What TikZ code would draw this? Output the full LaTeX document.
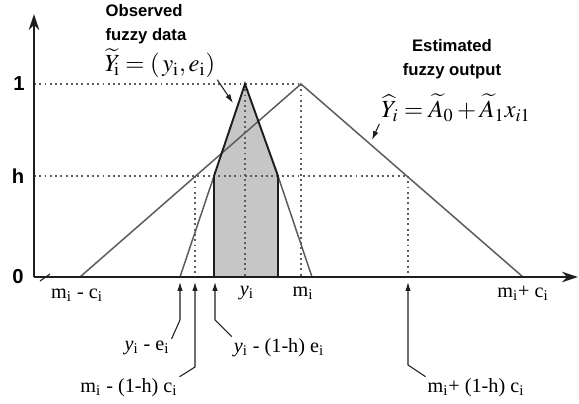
\documentclass[tikz,border=0pt]{standalone}
\usepackage{mathptmx}
\usepackage{fontspec}
\setmainfont{Liberation Serif}
\newfontfamily\sansTitre{Liberation Sans}
\usepackage{xcolor}
\definecolor{flouGris}{HTML}{C6C6C6}
\definecolor{flouTrait}{HTML}{5C5C5C}
\definecolor{flouNoir}{HTML}{1E1E1E}
\usepackage{tikz}
\usetikzlibrary{arrows.meta}
\tikzset{
  %% ── Axes and curves ──────────────────────────────────────────────────
  %% The two membership functions share one frame; the observed one is
  %% the darker outline, the estimated one stays a plain grey line.
  axe/.style        = {draw=flouNoir, line width=0.9pt},
  flecheAxe/.style  = {axe, -{Stealth[length=3.2mm, width=2.1mm]}},
  trait/.style      = {draw=flouTrait, line width=0.85pt},
  traitFort/.style  = {draw=flouNoir, line width=1.1pt},
  pointille/.style  = {draw=flouTrait, line width=0.9pt,
                       dash pattern=on 1.1pt off 1.9pt},
  %%
  %% ── Call-outs ────────────────────────────────────────────────────────
  renvoi/.style     = {draw=flouNoir, line width=0.6pt,
                       -{Latex[length=1.8mm, width=1.1mm]}},
  %%
  %% ── Text ─────────────────────────────────────────────────────────────
  etiquette/.style  = {font=\fontsize{11.5}{13}\selectfont, inner sep=1pt},
  formule/.style    = {font=\fontsize{14}{16}\selectfont, inner sep=1pt},
  titreBloc/.style  = {font=\sansTitre\bfseries\fontsize{9.5}{11.5}\selectfont,
                       align=center, inner sep=1pt},
  niveau/.style     = {font=\sansTitre\bfseries\fontsize{11.5}{13}\selectfont},
}

\begin{document}
\begin{tikzpicture}[x=0.02cm, y=-0.02cm]
\useasboundingbox (0,0) rectangle (579,404);

%% frame points
\coordinate (origine) at (34,277);
\coordinate (finX) at (578,277);
\coordinate (finY) at (34,14);
\coordinate (axe1) at (34,84);
\coordinate (axeH) at (34,176);
\coordinate (cassureA) at (40,281);
\coordinate (cassureB) at (50,274);

%% estimated output (wide triangle) and observed data (narrow triangle)
\coordinate (grandG) at (80,277);
\coordinate (grandS) at (301,84);
\coordinate (grandD) at (523,277);
\coordinate (grandHG) at (195,176);
\coordinate (grandHD) at (408,176);
\coordinate (petitG) at (180,277);
\coordinate (petitS) at (245,84);
\coordinate (petitD) at (312,277);
\coordinate (petitHG) at (214,176);
\coordinate (petitHD) at (278,176);
\coordinate (piedHG) at (214,277);
\coordinate (piedHD) at (278,277);
\coordinate (piedY) at (245,277);
\coordinate (piedM) at (301,277);
\coordinate (piedGH) at (195,277);
\coordinate (piedDH) at (408,277);

\fill[flouGris] (piedHG) -- (petitHG) -- (petitS) -- (petitHD) -- (piedHD) -- cycle;

\draw[pointille] (axe1) -- (grandS);
\draw[pointille] (axeH) -- (grandHD);
\draw[pointille] (petitS) -- (piedY);
\draw[pointille] (grandS) -- (piedM);
\draw[pointille] (grandHG) -- (piedGH);
\draw[pointille] (grandHD) -- (piedDH);

\draw[trait] (grandG) -- (grandS) -- (grandD);
\draw[trait] (petitG) -- (petitHG);
\draw[trait] (petitHD) -- (petitD);
\draw[traitFort] (piedHG) -- (petitHG) -- (petitS) -- (petitHD) -- (piedHD);

\draw[flecheAxe] (origine) -- (finX);
\draw[flecheAxe] (origine) -- (finY);
\draw[axe, line width=0.6pt] (cassureA) -- (cassureB);

%% levels
\node[niveau] (niv1) at (19,84) {1};
\node[niveau] (nivH) at (18,176) {h};
\node[niveau] (niv0) at (18,277) {0};

%% abscissa labels
\node[etiquette] (lblMmC) at (77,295) {m\textsubscript{i} - c\textsubscript{i}};
\node[etiquette] (lblY) at (247,293) {\textit{y}\textsubscript{i}};
\node[etiquette] (lblM) at (303,293) {m\textsubscript{i}};
\node[etiquette] (lblMpC) at (523,293) {m\textsubscript{i}+ c\textsubscript{i}};

%% call-outs under the axis
\coordinate (pointeYE) at (180,282);
\coordinate (coudeYE) at (180,320);
\coordinate (pointeMC) at (195,282);
\coordinate (coudeMC) at (195,367);
\coordinate (pointeYH) at (215,282);
\coordinate (coudeYH) at (215,320);
\coordinate (pointeMH) at (408,282);
\coordinate (coudeMH) at (408,365);

\node[etiquette] (lblYE) at (147,348) {\textit{y}\textsubscript{i} - e\textsubscript{i}};
\node[etiquette] (lblMC) at (129,388) {m\textsubscript{i} - (1-h) c\textsubscript{i}};
\node[etiquette] (lblYH) at (279,348) {\textit{y}\textsubscript{i} - (1-h) e\textsubscript{i}};
\node[etiquette] (lblMH) at (476,388) {m\textsubscript{i}+ (1-h) c\textsubscript{i}};

\draw[renvoi] (lblYE.north east) -- (coudeYE) -- (pointeYE);
\draw[renvoi] (lblMC.north east) -- (coudeMC) -- (pointeMC);
\draw[renvoi] (lblYH.north west) -- (coudeYH) -- (pointeYH);
\draw[renvoi] (lblMH.north west) -- (coudeMH) -- (pointeMH);

%% titles and formulas
\node[titreBloc, align=left] (titreObs) at (146,24) {Observed\\[2pt]fuzzy data};
\node[formule] (formObs) at (160,63)
     {$\widetilde{Y}_{\!\mathrm{i}} =(\,y_{\mathrm{i}}, e_{\mathrm{i}})$};
\node[titreBloc] (titreEst) at (452,59) {Estimated\\[2pt]fuzzy output};
\node[formule] (formEst) at (456,108)
     {$\widehat{Y}_i = \widetilde{A}_0 + \widetilde{A}_1 x_{i1}$};

\coordinate (pointeObs) at (233,103);
\coordinate (pointeEst) at (372,140);
\draw[renvoi] (formObs.south east) -- (pointeObs);
\draw[renvoi] (formEst.south west) -- (pointeEst);

\end{tikzpicture}
\end{document}
